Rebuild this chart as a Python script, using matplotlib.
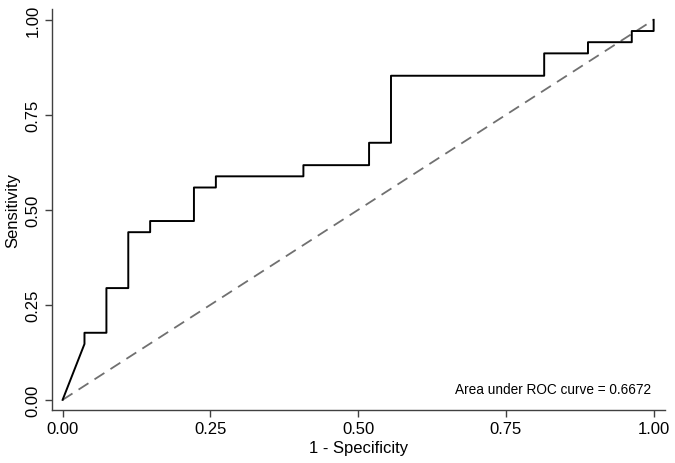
import matplotlib.pyplot as plt

# ROC points (27 negatives, 34 positives)
fpr = [0.0, 0.0370, 0.0370, 0.0741, 0.0741, 0.1111, 0.1111, 0.1481, 0.1481,
       0.2222, 0.2222, 0.2593, 0.2593, 0.4074, 0.4074, 0.5185, 0.5185,
       0.5556, 0.5556, 0.8148, 0.8148, 0.8889, 0.8889, 0.9630, 0.9630,
       1.0, 1.0]
tpr = [0.0, 0.1471, 0.1765, 0.1765, 0.2941, 0.2941, 0.4412, 0.4412, 0.4706,
       0.4706, 0.5588, 0.5588, 0.5882, 0.5882, 0.6176, 0.6176, 0.6765,
       0.6765, 0.8529, 0.8529, 0.9118, 0.9118, 0.9412, 0.9412, 0.9706,
       0.9706, 1.0]
ref_line = [0.0, 1.0]
auc = 0.6672
ticks = [0.0, 0.25, 0.5, 0.75, 1.0]
tick_labels = ["0.00", "0.25", "0.50", "0.75", "1.00"]

plt.rcParams["font.family"] = ["Liberation Sans", "DejaVu Sans"]

fig = plt.figure(figsize=(6.75, 4.64), dpi=100)
ax = fig.add_axes([0.077, 0.114, 0.908, 0.864])

ax.plot(ref_line, ref_line, color="#707070", lw=1.3, ls=(0, (6.5, 4)))
ax.plot(fpr, tpr, color="black", lw=1.4)

ax.set_xlim(-0.018, 1.019)
ax.set_ylim(-0.027, 1.028)
ax.set_xticks(ticks)
ax.set_xticklabels(tick_labels)
ax.set_yticks(ticks)
ax.set_yticklabels(tick_labels, rotation=90, va="center")

for side in ["top", "right"]:
    ax.spines[side].set_visible(False)
for side in ["left", "bottom"]:
    ax.spines[side].set_color("#404040")
    ax.spines[side].set_linewidth(1.0)
ax.tick_params(direction="out", length=5, width=1.0, color="#404040",
               labelsize=12, pad=3)

ax.set_xlabel("1 - Specificity", fontsize=12, labelpad=3)
ax.set_ylabel("Sensitivity", fontsize=12, labelpad=4)

ax.text(0.995, 0.028, f"Area under ROC curve = {auc:.4f}",
        ha="right", va="center", fontsize=9.8)

fig.savefig("out.png", dpi=100)
